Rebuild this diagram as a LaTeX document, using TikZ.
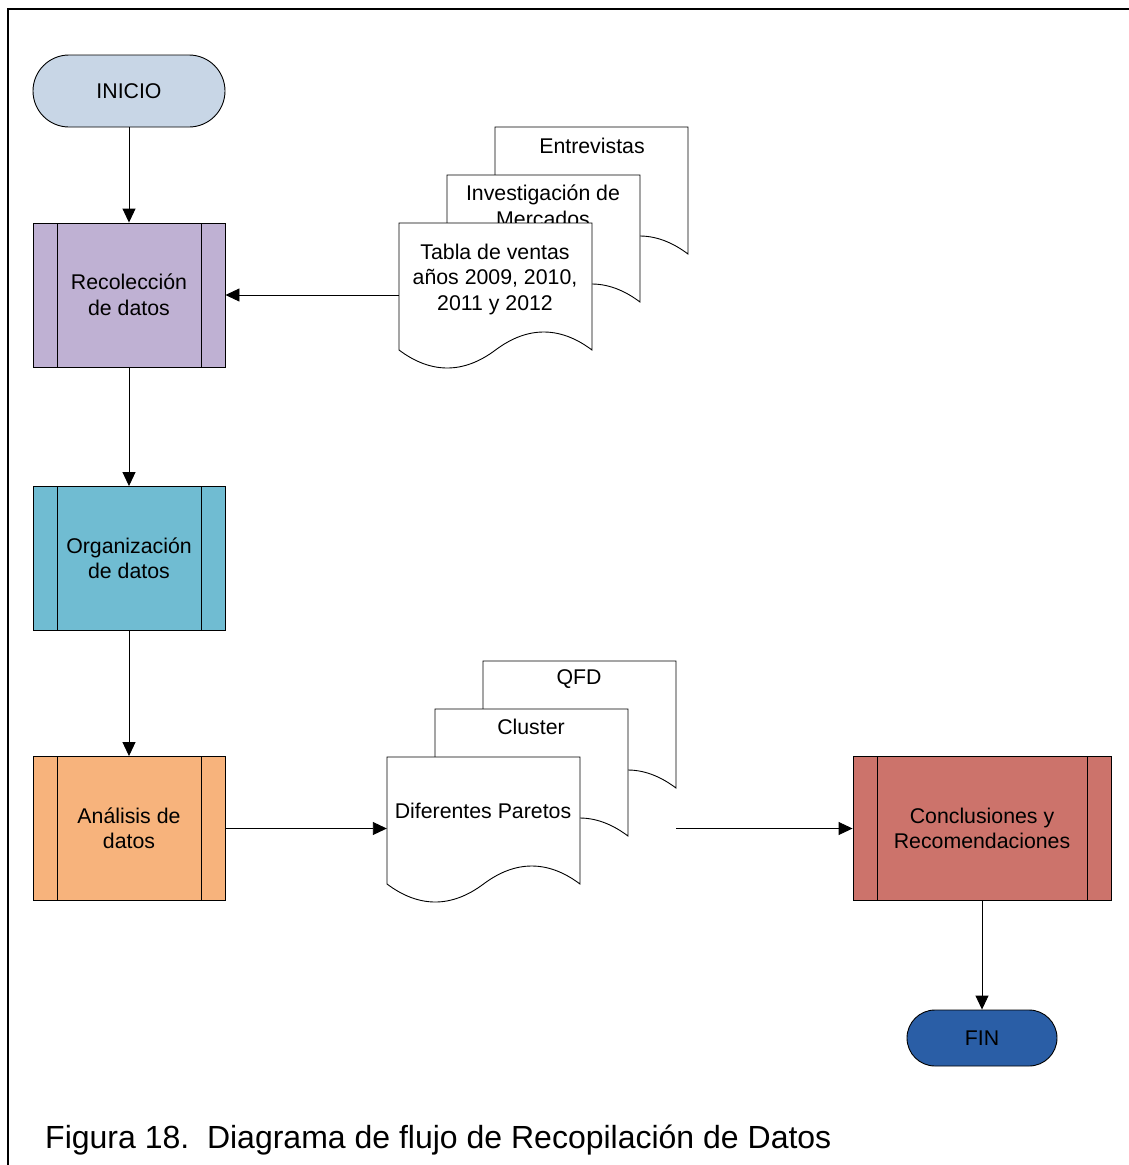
\documentclass[tikz,border=0pt]{standalone}
\usepackage{fontspec}
\setmainfont{Liberation Sans}
\usetikzlibrary{arrows.meta}

\definecolor{cInicio}{HTML}{C8D6E6}
\definecolor{cRecol}{HTML}{BFB1D3}
\definecolor{cOrgan}{HTML}{70BCD2}
\definecolor{cAnal}{HTML}{F7B37C}
\definecolor{cConcl}{HTML}{CC736B}
\definecolor{cFin}{HTML}{2A5EA6}

\tikzset{
  x=1pt, y=-1pt,
  lbl/.style={font=\fontsize{21.3}{25.5}\selectfont, align=center, inner sep=0pt},
  terminal/.style={lbl, draw=black, line width=0.9pt, rounded corners=#1, minimum width=192pt},
  procbox/.style={lbl, draw=black, line width=0.9pt, rectangle,
    minimum width=#1, minimum height=144pt,
    path picture={
      \draw[line width=0.9pt] ([xshift=24pt]path picture bounding box.north west) -- ([xshift=24pt]path picture bounding box.south west);
      \draw[line width=0.9pt] ([xshift=-24pt]path picture bounding box.north east) -- ([xshift=-24pt]path picture bounding box.south east);
    }},
  docarea/.style={inner sep=0pt, minimum width=193pt, minimum height=127pt},
  docline/.style={draw=black, fill=white, line width=0.9pt},
  arr/.style={line width=0.9pt, -{Triangle[length=14pt,width=13pt]}},
}

% one page of a document stack, top-left corner at (#1,#2)
\newcommand\docpage[2]{%
  \begin{scope}[shift={(#1,#2)}]
    \draw[docline] (0,0) -- (193,0) -- (193,127)
      .. controls (161,103) and (128.5,103) .. (96.5,127)
      .. controls (64.5,151) and (32,151) .. (0,127) -- cycle;
  \end{scope}}

\begin{document}
\begin{tikzpicture}
\useasboundingbox (0,0) rectangle (1128,1165);

% page frame
\draw[line width=1.6pt] (8,1170) -- (8,9) -- (1135,9);

% left column
\node[terminal=36pt, fill=cInicio, minimum height=72pt] (inicio) at (129,91) {INICIO};
\node[procbox=192pt, fill=cRecol] (recol) at (129,295) {Recolección\\de datos};
\node[procbox=192pt, fill=cOrgan] (organ) at (129,558.5) {Organización\\de datos};
\node[procbox=192pt, fill=cAnal] (anal) at (129,828.5) {Análisis de\\datos};

% right column
\node[procbox=258pt, fill=cConcl] (concl) at (982,828.5) {Conclusiones y\\Recomendaciones};
\node[terminal=28pt, fill=cFin, minimum width=150pt, minimum height=56pt] (fin) at (982,1038) {FIN};

% first document stack
\docpage{495}{127}
\node[docarea] (entrevDoc) at (591.5,190.5) {};
\node[lbl] (entrev) at (592,146) {Entrevistas};
\docpage{447}{175}
\node[docarea] (mercDoc) at (543.5,238.5) {};
\node[lbl] (merc) at (543,206) {Investigación de\\Mercados};
\docpage{399}{223}
\node[docarea] (tablaDoc) at (495.5,286.5) {};
\node[lbl] (tabla) at (495,279) {Tabla de ventas\\años 2009, 2010,\\2011 y 2012};

% second document stack
\docpage{483}{661}
\node[docarea] (qfdDoc) at (579.5,724.5) {};
\node[lbl] (qfd) at (579,679) {QFD};
\docpage{435}{709}
\node[docarea] (clusDoc) at (531.5,772.5) {};
\node[lbl] (clus) at (531,727) {Cluster};
\docpage{387}{757}
\node[docarea] (paretoDoc) at (483.5,820.5) {};
\node[lbl] (pareto) at (483,811) {Diferentes Paretos};

% connectors
\draw[arr] (inicio) -- (recol);
\draw[arr] (recol) -- (organ);
\draw[arr] (organ) -- (anal);
\draw[arr] (tablaDoc.west |- recol.east) -- (recol.east);
\draw[arr] (anal.east) -- (paretoDoc.west |- anal.east);
\draw[arr] (qfdDoc.east |- concl.west) -- (concl.west);
\draw[arr] (concl) -- (fin);

% caption
\node[anchor=base west, inner sep=0pt, font=\fontsize{32}{37}\selectfont] (caption) at (45,1148)
  {Figura 18.\ \ Diagrama de flujo de Recopilación de Datos};
\end{tikzpicture}
\end{document}
